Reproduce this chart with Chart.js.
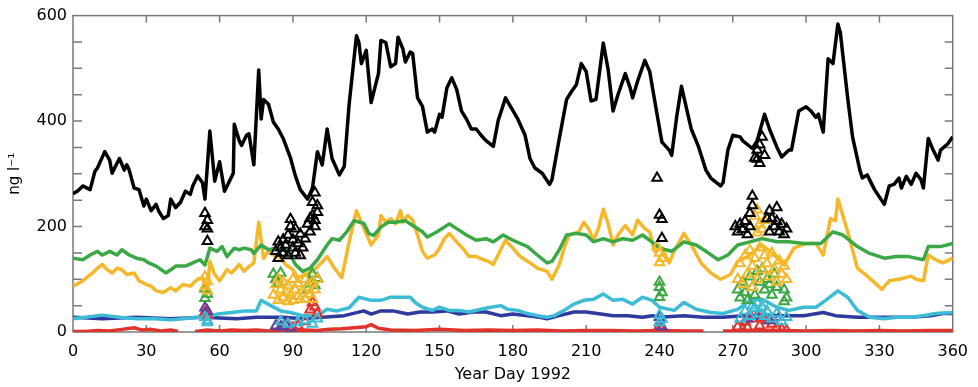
<!DOCTYPE html>
<html>
<head>
<meta charset="utf-8">
<script src="https://cdn.jsdelivr.net/npm/chart.js@4.4.0/dist/chart.umd.min.js"></script>
<style>
  html, body { margin: 0; padding: 0; background: #fff; }
  #wrap { width: 978px; height: 387px; }
</style>
</head>
<body>
<div id="wrap"><canvas id="chart" width="978" height="387"></canvas></div>
<script>
// Daily series (year day -> ng l-1)
const blackDays = [0,2,4,7,9,10,13,15,16,18,19,21,22,23,25,27,29,30,32,34,35,37,39,40,42,44,46,48,49,51,53,54,56,58,60,62,64,65.6,66,68,69,71,72,74,76,77,78,80,82,84,86,89,91,93,96,98,100,102,104,106,109,111,113,116,117,118,120,122,124,125,126,128,130,132,133,135,136,138,139,141,143,145,147,148,150,151,153,155,157,159,161,163,165,167,169,172,174,177,179,182,185,187,189,192,195,196,199,202,204,206,208,210,212,214,216,217,219,221,223,226,228,229,231,234,236,239,241,244,245,247,249,251,253,256,259,261,265,266,268,270,273,274,278,280,283,285,288,290,293,294,297,300,302,304,305,307,309,311,313,314,317,319,322,323,325,328,332,334,336,338,339,341,343,345,347,348,350,352,354,355,358,360];
const blackVals = [262,268,277,270,305,311,342,326,301,320,329,307,317,307,273,270,239,252,230,242,230,215,221,252,236,246,267,261,277,296,283,252,381,286,323,267,286,301,394,363,354,373,376,317,497,404,441,432,398,385,367,330,296,270,252,273,342,317,385,329,298,314,432,562,549,509,534,435,472,490,553,549,503,509,559,537,512,531,528,444,428,379,385,379,413,407,463,482,460,419,404,385,385,373,363,352,401,444,428,404,373,329,311,301,280,289,367,441,456,469,509,494,438,441,512,548,497,419,450,490,463,444,475,515,494,413,360,345,335,407,466,425,385,351,307,292,277,283,345,373,370,363,348,363,413,385,351,332,345,345,419,427,419,407,413,379,518,509,584,568,444,370,307,292,298,270,242,277,280,292,273,295,280,301,289,273,367,345,326,345,357,370];

const greenDays = [0,4,7,10,12,15,18,20,23,26,29,31,34,38,40,42,46,49,52,54,56,59,61,63,66,68,70,73,74,77,80,83,86,89,91,94,97,100,104,106,109,112,115,119,121,123,126,129,132,136,139,143,145,149,154,157,161,165,169,172,176,180,186,190,194,196,199,202,206,210,213,217,221,225,229,233,236,240,245,250,255,259,264,268,272,277,282,288,293,299,306,311,315,321,326,332,337,342,348,350,355,360];
const greenVals = [140,137,146,153,146,153,146,156,146,140,137,131,125,112,118,125,125,131,137,127,159,153,162,143,159,156,159,156,149,165,156,159,156,146,128,115,121,137,165,177,174,190,211,206,187,183,199,208,208,211,202,190,180,190,205,196,184,174,177,171,184,174,162,146,131,134,156,184,187,184,171,177,171,177,174,184,174,159,153,171,165,153,137,146,165,171,177,171,171,168,168,190,184,162,149,140,143,143,137,162,162,168];

const orangeDays = [0,4,8,10,12,14,16,18,20,22,25,27,30,32,34,37,40,42,45,48,51,53,55,56,58,60,63,65,68,70,72,74,76,78,80,83,85,87,90,92,95,98,101,104,107,110,113,116,118,122,125,126,128,130,132,134,135,137,139,141,143,145,148,150,152,154,157,160,162,165,168,170,172,175,177,180,183,186,188,190,194,196,199,201,203,207,209,211,213,215,217,219,221,223,226,229,231,234,236,238,241,244,246,250,253,257,261,265,269,272,276,282,287,291,295,300,304,307,310,312,313,317,321,325,331,334,338,343,345,348,350,353,356,360];
const orangeVals = [87,97,112,121,128,118,112,121,118,109,112,97,90,87,78,75,84,78,90,87,100,103,78,134,109,97,118,112,128,115,124,131,208,140,153,143,140,128,118,103,109,115,128,143,121,103,171,230,208,165,184,221,208,215,205,230,208,221,212,184,153,140,146,159,177,187,171,156,143,143,137,134,128,156,174,159,143,134,128,121,115,100,128,159,184,190,208,196,174,196,233,205,165,184,202,184,212,196,190,153,159,131,153,187,165,131,112,100,109,134,143,165,146,127,159,168,168,146,215,211,252,190,121,106,81,97,100,106,100,97,146,137,131,140];

const cyanDays = [0,5,12,19,26,33,40,45,51,55,59,65,70,75,77,81,85,89,94,100,104,108,113,117,122,126,130,134,138,140,143,147,150,154,158,162,167,171,175,178,182,186,190,194,197,201,205,209,213,217,221,225,229,233,237,240,246,250,255,261,266,272,277,282,288,293,299,304,308,313,317,321,326,332,337,343,348,353,360];
const cyanVals = [25,28,32,28,25,25,23,25,28,28,34,37,40,40,60,50,40,37,31,31,43,40,46,66,60,60,66,66,66,56,47,41,47,41,41,38,43,47,50,43,41,35,31,28,31,41,53,60,62,72,60,62,53,66,60,47,41,56,43,37,35,43,60,62,47,41,47,47,60,78,66,41,28,25,28,28,31,35,37];

const blueDays = [0,12,26,40,53,67,75,86,94,102,111,119,122,126,131,137,142,147,153,158,164,169,175,180,186,191,194,199,205,210,216,221,227,233,237,240,250,258,266,274,282,291,299,307,312,321,332,343,351,356,360];
const blueVals = [28,25,28,25,28,25,28,28,25,28,31,40,34,40,40,34,38,38,40,34,38,38,31,34,31,28,25,31,38,38,34,31,31,28,31,28,31,28,28,31,31,31,31,37,31,28,28,28,31,35,35];

const redDays = [0,5,10,15,20,25,28,32,36,40,43,46,50,55,60,65,70,75,80,85,90,95,100,105,110,115,120,122,125,130,140,150,160,170,180,190,200,210,220,230,240,250,258,263,266,270,280,290,300,310,320,330,340,350,360];
const redVals = [1,1,3,2,5,8,4,5,2,4,1,null,1,4,2,4,3,4,2,3,2,4,3,5,6,8,10,14,7,4,3,5,3,4,3,4,2,3,3,2,3,2,2,null,2,2,4,3,2,3,2,3,2,3,3];

// Individual samples (triangles)
const blackTriDays = [54,55,54,55,55, 83,84,84,85,86,86,87,88,88,89,89,90,90,91,91,92,93,93,94,95,96,97,97,98,98,99,99,100,100,99, 239,240,241,241, 279,280,281,282,281,283,280, 271,272,273,274,275,276,277,278,278,277,285,286,287,288,289,290,291,292,285,288,284];
const blackTriVals = [225,212,200,196,172, 153,171,140,160,150,175,165,184,145,214,200,160,175,196,150,168,186,145,160,177,205,215,190,246,221,264,200,240,227,212, 292,222,214,178, 330,345,355,370,320,335,328, 200,190,205,195,210,185,200,258,240,225,230,215,200,236,190,205,185,196,190,210,215];

const orangeTriDays = [54,55,54,55, 82,83,84,84,85,86,86,87,88,88,89,90,90,91,92,92,93,94,95,95,96,97,98,98,99,100, 239,240,241,240, 272,273,274,275,276,277,278,278,279,280,281,282,283,284,285,286,287,288,289,290,291,292,279,280,281,282,280,283];
const orangeTriVals = [105,96,86,78, 70,90,60,100,80,65,95,75,58,88,70,100,60,80,68,92,62,78,100,62,85,72,95,62,80,100, 162,150,140,132, 100,130,90,145,110,155,85,125,140,100,160,118,145,130,105,150,120,95,135,110,125,100,220,232,205,195,188,212];

const greenTriDays = [54,55,54, 82,83,84,85,97,98,99,100,96, 240,240,241,240, 272,273,274,275,276,277,278,279,280,281,282,283,284,285,286,287,288,291,292,291];
const greenTriVals = [82,72,64, 110,100,92,112,95,110,88,102,80, 95,85,75,66, 80,65,95,75,60,105,85,70,115,95,120,80,100,90,70,110,85,80,65,58];

const cyanTriDays = [54,55,55, 85,88,92,95,98,100, 240,241,240, 273,275,277,278,279,280,281,282,283,284,286,288,290,292];
const cyanTriVals = [28,22,18, 20,15,18,22,15,25, 32,24,18, 25,40,30,50,45,55,35,48,30,40,25,35,20,28];

const blueTriDays = [54,55, 83,85,87,89, 240,240,241, 276,280,285,289];
const blueTriVals = [46,40, 12,10,14,8, 28,18,10, 25,30,22,28];

const redTriDays = [54,55, 86,88,90,92,95,97,98,99,100, 240,241, 272,274,275,276,278,280,281,282,284,286,288,290,292];
const redTriVals = [38,32, 10,14,8,12,20,42,56,48,35, 12,6, 10,5,20,8,25,30,12,28,22,15,8,5,3];

const xTicks = [0,30,60,90,120,150,180,210,240,270,300,330,360];

const colors = {
  black: '#000000',
  green: '#3aa845',
  orange: '#f4b82a',
  cyan: '#3dbcd6',
  blue: '#2f3a9e',
  red: '#e2332b'
};

function pts(days, vals) {
  return days.map((d, i) => ({ x: d, y: vals[i] }));
}

function lineSet(days, vals, color, order) {
  return {
    type: 'line',
    data: pts(days, vals),
    borderColor: color,
    borderWidth: 3.5,
    borderJoinStyle: 'round',
    pointRadius: 0,
    tension: 0,
    spanGaps: false,
    fill: false,
    order: order
  };
}

function triSet(days, vals, color) {
  return {
    type: 'scatter',
    data: pts(days, vals),
    pointStyle: 'triangle',
    pointRadius: 5.5,
    borderColor: color,
    backgroundColor: 'rgba(255,255,255,0)',
    borderWidth: 2,
    showLine: false,
    order: 0
  };
}

// Frame plus inward tick marks, IDL style
const frameTicks = {
  id: 'frameTicks',
  beforeDatasetsDraw(chart) {
    const { ctx, chartArea: a, scales: { x, y } } = chart;
    ctx.save();
    ctx.strokeStyle = '#7a7a7a';
    ctx.lineWidth = 1.5;
    ctx.strokeRect(a.left, a.top, a.right - a.left, a.bottom - a.top);
    ctx.beginPath();
    xTicks.slice(1, -1).forEach(d => {
      const px = x.getPixelForValue(d);
      ctx.moveTo(px, a.bottom); ctx.lineTo(px, a.bottom - 7);
      ctx.moveTo(px, a.top); ctx.lineTo(px, a.top + 7);
    });
    for (let v = 50; v < 600; v += 50) {
      const py = y.getPixelForValue(v);
      ctx.moveTo(a.left, py); ctx.lineTo(a.left + 9, py);
      ctx.moveTo(a.right, py); ctx.lineTo(a.right - 8, py);
    }
    ctx.stroke();
    ctx.restore();
  }
};

const font = { family: 'DejaVu Sans', size: 16 };

new Chart(document.getElementById('chart').getContext('2d'), {
  data: {
    datasets: [
      triSet(blackTriDays, blackTriVals, colors.black),
      triSet(orangeTriDays, orangeTriVals, colors.orange),
      triSet(greenTriDays, greenTriVals, colors.green),
      triSet(cyanTriDays, cyanTriVals, colors.cyan),
      triSet(blueTriDays, blueTriVals, '#5a3fa0'),
      triSet(redTriDays, redTriVals, colors.red),
      lineSet(blackDays, blackVals, colors.black, 1),
      lineSet(greenDays, greenVals, colors.green, 2),
      lineSet(orangeDays, orangeVals, colors.orange, 3),
      lineSet(cyanDays, cyanVals, colors.cyan, 4),
      lineSet(blueDays, blueVals, colors.blue, 5),
      lineSet(redDays, redVals, colors.red, 6)
    ]
  },
  options: {
    responsive: false,
    animation: false,
    layout: { padding: { top: 9, right: 25, left: 0, bottom: 0 } },
    plugins: {
      legend: { display: false },
      tooltip: { enabled: false }
    },
    scales: {
      x: {
        type: 'linear',
        min: 0,
        max: 360,
        afterBuildTicks: s => { s.ticks = xTicks.map(v => ({ value: v })); },
        afterFit: s => { s.height = 55; },
        grid: { display: false, drawTicks: false },
        border: { display: false },
        ticks: { color: '#000', font: font, padding: 10, maxRotation: 0 },
        title: { display: true, text: 'Year Day 1992', color: '#000', font: font, padding: { top: 0, bottom: 3 } }
      },
      y: {
        type: 'linear',
        min: 0,
        max: 600,
        afterFit: s => { s.width = 73; },
        grid: { display: false, drawTicks: false },
        border: { display: false },
        ticks: { stepSize: 200, color: '#000', font: font, padding: 6 },
        title: { display: true, text: 'ng l\u207B\u00B9', color: '#000', font: { family: 'DejaVu Sans', size: 15 }, padding: { top: 6, bottom: 0 } }
      }
    }
  },
  plugins: [frameTicks]
});
</script>
</body>
</html>
